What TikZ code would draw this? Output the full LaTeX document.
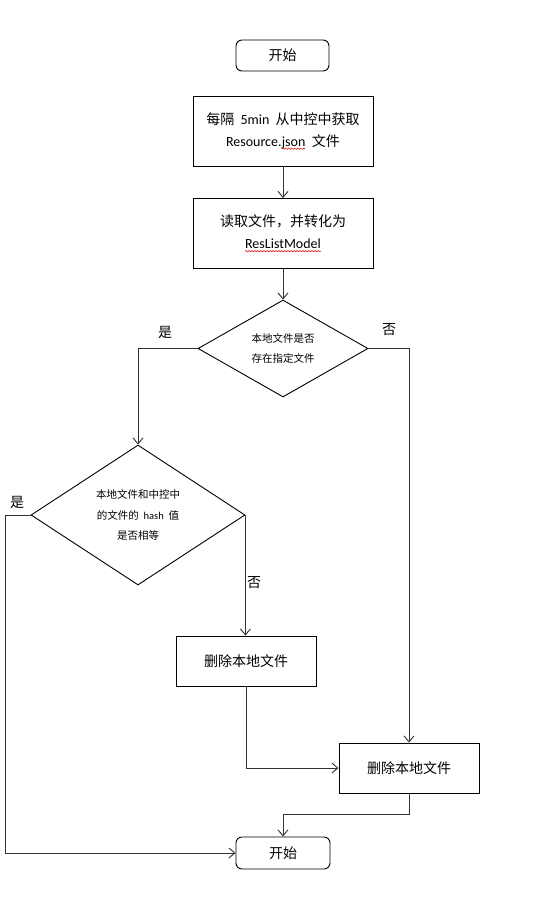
\documentclass[tikz,border=0pt]{standalone}
\usepackage{fontspec}
\setmainfont{Noto Sans CJK SC}
\newfontfamily\latfont{Carlito}
\usetikzlibrary{shapes.geometric,arrows.meta,decorations.pathmorphing}
\newcommand\redwave[1]{\tikz[baseline=(w.base),x=1pt,y=1pt]{\node[draw=none,fill=none,inner sep=0pt,outer sep=0pt,shape=rectangle,minimum width=0pt,minimum height=0pt] (w) {#1};\draw[draw=red!85!black,line width=0.5pt,decorate,decoration={snake,amplitude=0.7pt,segment length=3pt}] ([yshift=-2.5pt]w.base west) -- ([yshift=-2.5pt]w.base east);}}
\begin{document}
\begin{tikzpicture}[x=1pt,y=-1pt,
  base/.style={draw=black,line width=0.9pt,inner sep=0pt,align=center,font=\fontsize{14}{22}\selectfont},
  term/.style={base,rounded corners=6pt,minimum width=93pt,minimum height=31pt},
  box/.style={base,minimum width=180pt,minimum height=70pt},
  sbox/.style={base,minimum width=140pt,minimum height=50pt},
  dia/.style={base,diamond,shape aspect=1.6,font=\fontsize{10.5}{20.5}\selectfont},
  conn/.style={draw=black!80,line width=0.9pt,-{Straight Barb[length=6pt,width=10pt]}},
  lab/.style={font=\fontsize{14}{16}\selectfont,inner sep=0pt}
]
\useasboundingbox (0,0) rectangle (554,903);
\fill[white] (0,0) rectangle (554,903);

\node[term] (start) at (282.5,55.5) {开始};
\node[box] (b1) at (283,131) {每隔\ \ {\latfont 5min}\ \ 从中控中获取\\{\latfont Resource.\redwave{json}}\ \ 文件};
\node[box] (b2) at (283,233.5) {读取文件，并转化为\\{\latfont\redwave{ResListModel}}};
\node[dia,minimum width=170pt,minimum height=97pt] (d1) at (283,348.5) {本地文件是否\\存在指定文件};
\node[dia,minimum width=214pt,minimum height=140pt] (d2) at (138,515) {本地文件和中控中\\的文件的\ \ {\latfont hash}\ \ 值\\是否相等};
\node[sbox] (b3) at (246,661) {删除本地文件};
\node[sbox] (b4) at (409,768) {删除本地文件};
\node[term,minimum width=94pt,minimum height=32pt] (end) at (283,853) {开始};

\node[lab] (l1) at (165,332) {是};
\node[lab] (l2) at (389,330) {否};
\node[lab] (l3) at (17,502) {是};
\node[lab] (l4) at (254,583) {否};

\draw[conn] (b1.south) -- (b2.north);
\draw[conn] (b2.south) -- (d1.north);
\draw[conn] (d1.west) -| (d2.north);
\draw[conn] (d1.east) -| (b4.north);
\draw[conn] (d2.east) -- (d2.east |- b3.north);
\draw[conn] (d2.west) -- ++(-25,0) |- (end.west);
\draw[conn] (b3.south) |- (b4.west);
\draw[conn] (b4.south) -- ++(0,21) -| (end.north);
\end{tikzpicture}
\end{document}
